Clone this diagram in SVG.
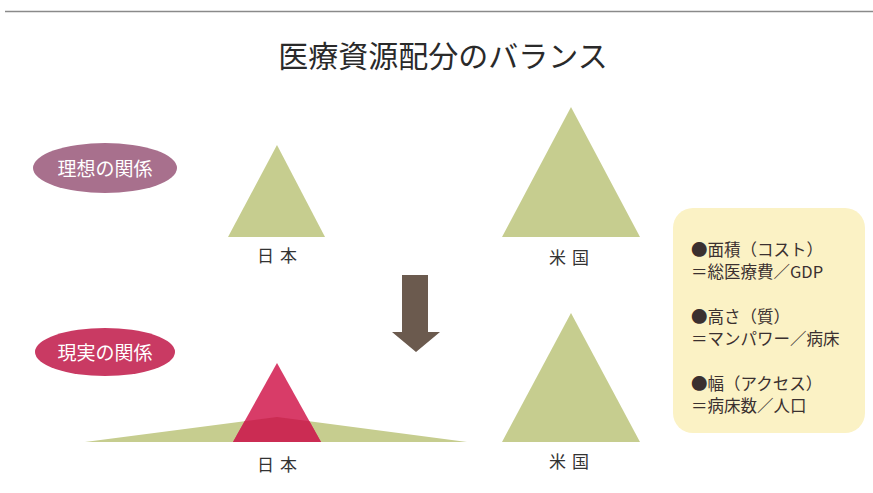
<svg xmlns="http://www.w3.org/2000/svg" width="873" height="493" viewBox="0 0 873 493">
<style>
.t{font-family:"Noto Sans CJK JP","Liberation Sans",sans-serif;}
.lab{font-size:17px;fill:#333;text-anchor:middle;letter-spacing:6px;}
.pill{font-size:19px;fill:#fff;text-anchor:middle;}
.leg{font-size:16.5px;fill:#3a3030;}
.g{fill:#c6cd8f;}
</style>
<rect width="873" height="493" fill="#fff"/>
<line x1="5" y1="11.5" x2="873" y2="11.5" stroke="#8a8a8a" stroke-width="1.5"/>
<text class="t" x="443" y="67" font-size="30" fill="#2a2a2a" text-anchor="middle">医療資源配分のバランス</text>

<g id="ideal-label">
<ellipse cx="105" cy="168" rx="72" ry="25" fill="#a8708d"/>
<text class="t pill" x="105" y="176">理想の関係</text>
</g>
<g id="real-label">
<ellipse cx="105" cy="352" rx="70" ry="24" fill="#c93a63"/>
<text class="t pill" x="105" y="360">現実の関係</text>
</g>

<g id="japan-ideal">
<polygon class="g" points="277,145 325,237 228,237"/>
<text class="t lab" x="280" y="262">日本</text>
</g>
<g id="us-ideal">
<polygon class="g" points="571,107 640,237 502,237"/>
<text class="t lab" x="572" y="264">米国</text>
</g>

<g id="arrow">
<polygon points="402,275 428,275 428,332 440,332 416,352 392,332 402,332" fill="#6b5a4e"/>
</g>

<g id="japan-real">
<polygon class="g" points="85,442 277,417 467,442"/>
<polygon points="277,363 321,442 233,442" fill="#d83c68"/>
<polygon points="233,442 244.6,421.2 277,417 309.4,421.2 321,442" fill="#cb2c53"/>
<text class="t lab" x="280" y="471">日本</text>
</g>
<g id="us-real">
<polygon class="g" points="571,313 640,442 502,442"/>
<text class="t lab" x="572" y="468">米国</text>
</g>

<g id="legend">
<rect x="673" y="208" width="192" height="225" rx="20" fill="#fbf2c5"/>
<text class="t leg" x="691" y="256">●面積（コスト）</text>
<text class="t leg" x="691" y="278">＝総医療費／GDP</text>
<text class="t leg" x="691" y="323">●高さ（質）</text>
<text class="t leg" x="691" y="345">＝マンパワー／病床</text>
<text class="t leg" x="691" y="390">●幅（アクセス）</text>
<text class="t leg" x="691" y="412">＝病床数／人口</text>
</g>
</svg>
